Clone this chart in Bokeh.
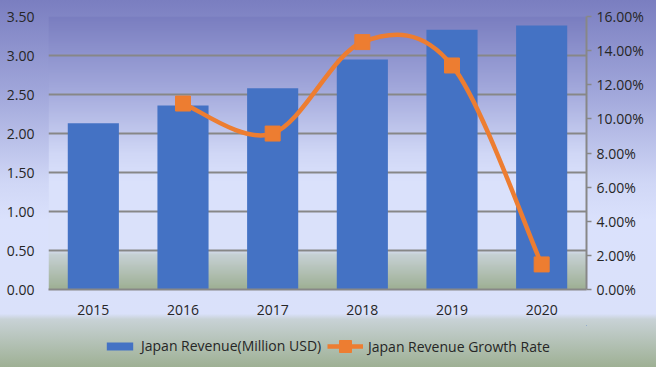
import numpy as np
from bokeh.plotting import figure
from bokeh.layouts import column
from bokeh.models import (Range1d, LinearAxis, FixedTicker, SingleIntervalTicker,
                          PrintfTickFormatter, Legend, LegendItem)
from bokeh.embed import file_html
from bokeh.resources import INLINE

# ---- data ----
years = ["2015", "2016", "2017", "2018", "2019", "2020"]
revenue = [2.13, 2.36, 2.58, 2.95, 3.33, 3.385]          # Million USD
growth_years = ["2016", "2017", "2018", "2019", "2020"]
growth = [10.9, 9.14, 14.5, 13.13, 1.47]                  # percent
bar_label = "Japan Revenue(Million USD)"
line_label = "Japan Revenue Growth Rate"

FONT = "Open Sans"
FS = "14px"
TXT = "#262626"
GRID = "#878787"
BAR = "#4472C4"
ORANGE = "#ED7D31"
W, H, LEG_H = 656, 367, 42
FRAME_L = 48

x_pos = list(range(len(years)))
gx = [years.index(y) for y in growth_years]

p = figure(width=W, height=H - LEG_H, output_backend="svg", toolbar_location=None,
           x_range=Range1d(-0.5, len(years) - 0.5), y_range=Range1d(0, 3.5),
           min_border_left=FRAME_L, min_border_right=70, min_border_top=16, min_border_bottom=36)
p.extra_y_ranges = {"rate": Range1d(0, 16)}

# gradient (styling) used for frame and outer area
stops = [(0.00, (122, 126, 192)), (0.25, (160, 166, 218)), (0.50, (208, 215, 246)),
         (0.60, (218, 225, 252)), (0.855, (218, 225, 250)), (0.87, (200, 210, 214)),
         (1.00, (158, 176, 148))]
css = ", ".join(f"rgb{c} {int(f*1000)/10}%" for f, c in stops)
p.border_fill_alpha = 0
p.background_fill_alpha = 0
p.outline_line_color = None

n = 300
t = np.linspace(1, 0, n)  # row 0 = bottom
fr = [s[0] for s in stops]
img = np.zeros((n, 2), dtype=np.uint32)
view = img.view(dtype=np.uint8).reshape((n, 2, 4))
for ch in range(3):
    col = np.interp(t, fr, [s[1][ch] for s in stops])
    view[:, :, ch] = col[:, None].astype(np.uint8)
view[:, :, 3] = 255
xr, yr = p.x_range, p.y_range
p.image_rgba(image=[img], x=xr.start, y=yr.start, dw=xr.end - xr.start,
             dh=yr.end - yr.start, level="image")

# bars
p.vbar(x=x_pos, top=revenue, width=0.57, fill_color=BAR, line_color=None)

# smooth line (Catmull-Rom style bezier, like Excel smoothing)
P = list(zip(gx, growth))
x0s, y0s, x1s, y1s, cx0, cy0, cx1, cy1 = [], [], [], [], [], [], [], []
for i in range(len(P) - 1):
    pm = P[i - 1] if i > 0 else P[i]
    p0, p1 = P[i], P[i + 1]
    p2_ = P[i + 2] if i + 2 < len(P) else P[i + 1]
    x0s.append(p0[0]); y0s.append(p0[1]); x1s.append(p1[0]); y1s.append(p1[1])
    cx0.append(p0[0] + (p1[0] - pm[0]) / 6); cy0.append(p0[1] + (p1[1] - pm[1]) / 6)
    cx1.append(p1[0] - (p2_[0] - p0[0]) / 6); cy1.append(p1[1] - (p2_[1] - p0[1]) / 6)
p.bezier(x0=x0s, y0=y0s, x1=x1s, y1=y1s, cx0=cx0, cy0=cy0, cx1=cx1, cy1=cy1,
         line_color=ORANGE, line_width=4.5, y_range_name="rate")
p.scatter(x=gx, y=growth, marker="square", size=15, fill_color=ORANGE,
          line_color=ORANGE, y_range_name="rate")

# axes
p.xgrid.visible = False
p.ygrid.grid_line_color = GRID
p.ygrid.grid_line_width = 2
p.ygrid.ticker = SingleIntervalTicker(interval=0.5)

la = p.yaxis[0]
la.ticker = SingleIntervalTicker(interval=0.5)
la.formatter = PrintfTickFormatter(format="%.2f")
la.axis_line_color = None
la.major_tick_line_color = None
la.minor_tick_line_color = None
la.major_label_standoff = 8

ba = p.xaxis[0]
ba.ticker = FixedTicker(ticks=x_pos)
ba.major_label_overrides = {i: y for i, y in zip(x_pos, years)}
ba.axis_line_color = GRID
ba.axis_line_width = 2
ba.major_tick_line_color = None
ba.minor_tick_line_color = None
ba.major_label_standoff = 9

ra = LinearAxis(y_range_name="rate", ticker=SingleIntervalTicker(interval=2),
                formatter=PrintfTickFormatter(format="%.2f%%"))
ra.axis_line_color = GRID
ra.axis_line_width = 2
ra.major_tick_line_color = GRID
ra.major_tick_line_width = 1.5
ra.major_tick_in = 0
ra.major_tick_out = 5
ra.minor_tick_line_color = None
ra.major_label_standoff = 5
p.add_layout(ra, "right")

for ax in (la, ba, ra):
    ax.major_label_text_font = FONT
    ax.major_label_text_font_size = FS
    ax.major_label_text_color = TXT

# ---- legend strip (its renderers sit outside its visible ranges) ----
q = figure(width=W, height=LEG_H, output_backend="svg", toolbar_location=None,
           x_range=Range1d(-3, -2), y_range=Range1d(-3, -2),
           x_axis_type=None, y_axis_type=None, min_border=0)
q.border_fill_alpha = 0
q.background_fill_alpha = 0
q.outline_line_color = None
lb = q.vbar(x=x_pos, top=revenue, width=0.57, fill_color=BAR, line_color=None)
ll = q.line(x=gx, y=growth, line_color=ORANGE, line_width=4.5)
lm = q.scatter(x=gx, y=growth, marker="square", size=12, fill_color=ORANGE, line_color=ORANGE)


def style(lg):
    lg.label_text_font = FONT
    lg.label_text_font_size = FS
    lg.label_text_color = TXT
    lg.background_fill_alpha = 0
    lg.border_line_color = None
    lg.label_standoff = 5
    lg.padding = 0
    lg.margin = 0
    lg.glyph_width = 33


leg1 = Legend(items=[LegendItem(label=bar_label, renderers=[lb])], location=(103 - FRAME_L, 12))
style(leg1)
leg1.glyph_height = 10
leg2 = Legend(items=[LegendItem(label=line_label, renderers=[ll, lm])], location=(327 - FRAME_L, 6))
style(leg2)
leg2.glyph_width = 36
leg2.glyph_height = 30
q.add_layout(leg1, "center")
q.add_layout(leg2, "center")

layout = column(p, q, spacing=0)
layout.styles = {"background-image": f"linear-gradient(to bottom, {css})"}

open("out.html", "w").write(file_html(layout, INLINE))
